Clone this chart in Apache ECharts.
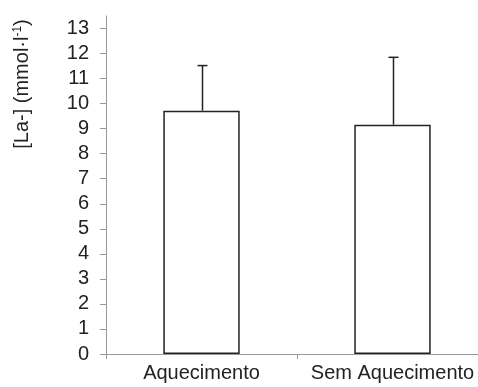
<!DOCTYPE html>
<html><head><meta charset="utf-8">
<script src="https://cdn.jsdelivr.net/npm/echarts@6/dist/echarts.min.js"></script>
<style>html,body{margin:0;padding:0;background:#fff}#c{width:478px;height:387px}</style>
</head><body><div id="c"></div>
<script>
const categories = ['Aquecimento', 'Sem Aquecimento'];
const means = [9.72, 9.16];
const sdUpper = [11.52, 11.85];
const yTicks = [0,1,2,3,4,5,6,7,8,9,10,11,12,13];

const chart = echarts.init(document.getElementById('c'));
const font = 'Liberation Sans, Arial, sans-serif';
chart.setOption({
  animation: false,
  backgroundColor: '#fff',
  grid: { left: 106, width: 382, top: 16, bottom: 33, outerBoundsMode: 'none', containLabel: false },
  graphic: [{
    type: 'text', x: 22, y: 84, rotation: Math.PI / 2,
    style: {
      text: '[La-] (mmol·l{s|-1})',
      rich: { s: { fontSize: 12, verticalAlign: 'top', fill: '#222', fontFamily: font, padding: [0,0,8,0] } },
      fontSize: 20, fontFamily: font, fill: '#222', align: 'center', verticalAlign: 'middle'
    }
  }],
  xAxis: {
    type: 'category', data: categories,
    axisLine: { lineStyle: { color: '#999', width: 1 } },
    axisTick: { show: true, length: 5, lineStyle: { color: '#999' } },
    axisLabel: { color: '#222', fontSize: 20, fontFamily: font, margin: 9, interval: 0, hideOverlap: false },
    splitLine: { show: false }
  },
  yAxis: {
    type: 'value', min: 0, max: 13.5,
    axisLine: { show: true, lineStyle: { color: '#999', width: 1 } },
    axisTick: { show: true, length: 6, lineStyle: { color: '#999' }, customValues: yTicks },
    axisLabel: { color: '#222', fontSize: 20, fontFamily: font, margin: 17, customValues: yTicks },
    splitLine: { show: false }
  },
  series: [{
    type: 'bar', data: means, barWidth: '40%',
    itemStyle: { color: '#fff', borderColor: '#222', borderWidth: 1.5 }
  }, {
    type: 'custom',
    data: means.map((m, i) => [i, m, sdUpper[i]]),
    renderItem: function (params, api) {
      const base = api.coord([api.value(0), api.value(1)]);
      const top = api.coord([api.value(0), api.value(2)]);
      const x = Math.round(base[0]) + 0.5;
      return { type: 'group', children: [
        { type: 'line', shape: { x1: x, y1: base[1], x2: x, y2: top[1] }, style: { stroke: '#222', lineWidth: 1.5 } },
        { type: 'line', shape: { x1: x - 5, y1: top[1], x2: x + 5, y2: top[1] }, style: { stroke: '#222', lineWidth: 1.5 } }
      ]};
    },
    z: 3
  }]
});
</script></body></html>
